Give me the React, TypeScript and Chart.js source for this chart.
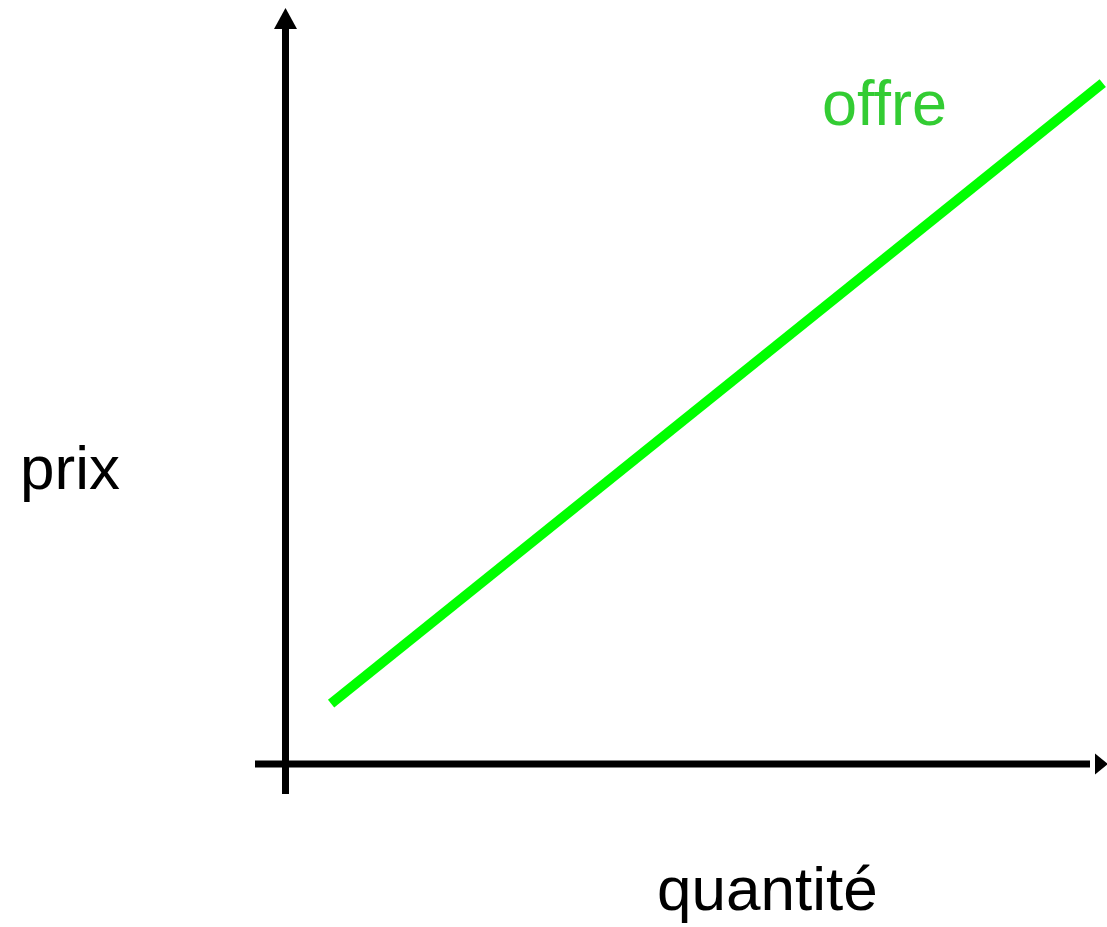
import React, { useEffect, useRef } from "react";
import { Chart, registerables } from "chart.js";

Chart.register(...registerables);

// Supply curve (offre): quantity vs price, in axis units (0..100)
const supplyQuantity = [5.5, 99.6];
const supplyPrice = [8.0, 90.3];

const seriesLabel = "offre";
const xAxisTitle = "quantité";
const yAxisTitle = "prix";

const FONT = "'Liberation Sans', Arial, Helvetica, sans-serif";

const axesPlugin = {
  id: "economicAxes",
  afterDatasetsDraw(chart: any) {
    const { ctx, scales } = chart;
    const xs = scales.x;
    const ys = scales.y;
    const ox = xs.getPixelForValue(0) - 0.5;
    const oy = ys.getPixelForValue(0);
    const yTop = 8;
    const xRight = 1108;
    ctx.save();
    ctx.strokeStyle = "#000";
    ctx.fillStyle = "#000";
    ctx.lineWidth = 7;
    ctx.lineCap = "butt";
    // y axis
    ctx.beginPath();
    ctx.moveTo(ox, oy + 30);
    ctx.lineTo(ox, yTop + 18);
    ctx.stroke();
    ctx.beginPath();
    ctx.moveTo(ox, yTop);
    ctx.lineTo(ox - 11.5, yTop + 21);
    ctx.lineTo(ox + 11.5, yTop + 21);
    ctx.closePath();
    ctx.fill();
    // x axis
    ctx.beginPath();
    ctx.moveTo(ox - 30.5, oy);
    ctx.lineTo(xRight - 18, oy);
    ctx.stroke();
    ctx.beginPath();
    ctx.moveTo(xRight, oy);
    ctx.lineTo(xRight - 13, oy - 10.5);
    ctx.lineTo(xRight - 13, oy + 10.5);
    ctx.closePath();
    ctx.fill();

    // texts
    ctx.textBaseline = "alphabetic";
    ctx.textAlign = "left";
    ctx.font = `62px ${FONT}`;
    ctx.fillText(yAxisTitle, 20, 489);
    ctx.fillText(xAxisTitle, 657, 910);
    ctx.fillStyle = "#33CC33";
    ctx.font = `63px ${FONT}`;
    ctx.fillText(seriesLabel, 822, 125);
    ctx.restore();
  },
};

export default function App() {
  const canvasRef = useRef<HTMLCanvasElement | null>(null);

  useEffect(() => {
    document.body.style.margin = "0";
    const canvas = canvasRef.current;
    if (!canvas) return;
    const chart = new Chart(canvas, {
      type: "line",
      data: {
        datasets: [
          {
            label: seriesLabel,
            data: supplyQuantity.map((q, i) => ({ x: q, y: supplyPrice[i] })),
            borderColor: "#00FF00",
            borderWidth: 10,
            borderCapStyle: "butt",
            pointRadius: 0,
            fill: false,
            tension: 0,
          },
        ],
      },
      options: {
        responsive: false,
        animation: false,
        events: [],
        layout: { padding: { left: 286, right: 1, top: 10, bottom: 163 } },
        plugins: { legend: { display: false }, tooltip: { enabled: false } },
        scales: {
          x: { type: "linear", min: 0, max: 100, display: false },
          y: { type: "linear", min: 0, max: 100, display: false },
        },
      },
      plugins: [axesPlugin],
    });
    return () => chart.destroy();
  }, []);

  return (
    <div style={{ position: "absolute", left: 0, top: 0, width: 1107, height: 927, background: "#fff" }}>
      <canvas ref={canvasRef} width={1107} height={927} style={{ display: "block" }} />
    </div>
  );
}
